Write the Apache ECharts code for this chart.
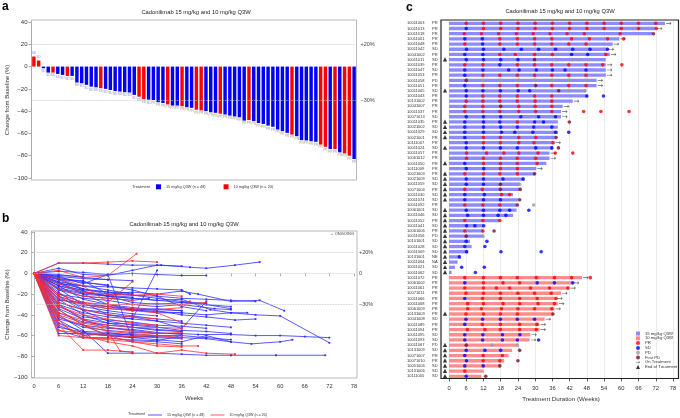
<!DOCTYPE html>
<html><head><meta charset="utf-8">
<script src="https://cdn.jsdelivr.net/npm/echarts@6/dist/echarts.min.js"></script>
<style>html,body{margin:0;padding:0;background:#fff}#c{width:680px;height:418px}</style>
</head><body><div id="c"></div>
<script>
// ---------- Panel a : waterfall ----------
const waterfallValues = [9, 5.4, -1.5, -5.4, -5.4, -6.6, -7.5, -8.4, -8.4, -14.3, -15, -16.4, -18, -18.6, -19.4, -20, -21, -22, -22.4, -23, -23.3, -25.4, -27, -29.3, -29.7, -30, -32, -32.7, -34, -35, -35, -35.6, -36.5, -37, -38.7, -39.3, -40, -41, -41.5, -42.3, -43, -44, -44.8, -45.5, -48.5, -48, -49, -50.6, -51.5, -53, -54, -56.5, -58, -59.5, -61, -62.5, -66, -66.3, -67, -67.5, -70, -72, -74, -74, -77, -78, -80, -83];
const waterfallArm = [10,10,15,15,10,15,15,10,15,15, 15,15,15,15,10,15,15,15,15,15, 15,15,10,10,15,15,15,15,10,15, 15,10,15,15,10,10,15,15,15,10, 15,15,15,15,15,10,15,15,15,15, 15,15,15,15,10,15,15,15,15,15, 10,10,15,10,15,10,10,15];
const waterfallResp = ['SD','SD','SD','SD','SD','SD','SD','SD','SD','SD','SD','SD','SD','SD','SD','SD','SD','SD','SD','SD','SD','SD','SD','SD','SD',
 'PR','PR','PR','PR','PR','PR','PR','PR','PR','PR','PR','PR','PR','PR','PR','PR','PR','PR','PR','PR','PR','PR','PR','PR','PR','PR','PR','PR','PR','PR','PR','PR','PR','PR','PR','PR','PR','PR','PR','PR','PR','PR','PR'];
const armLabels = {a15:'15 mg/kg Q3W (n = 48)', a10:'10 mg/kg Q3W (n = 20)', b15:'15 mg/kg Q3W (n = 48)', b10:'10 mg/kg Q3W (n = 20)'};

// ---------- Panel b : spider ----------
const spiderBlue = [
 [[0,0],[6,10],[12,10],[18,9],[24,8],[31,8],[38,6],[42,5],[49,8],[55,11]],
 [[0,0],[6,5],[12,-1],[18,-2],[24,3],[30,8],[36,7]],
 [[0,0],[6,2],[12,1],[18,-1],[24,0],[30,-1],[36,-2],[42,-2]],
 [[0,0],[6,-3],[12,-10],[18,-1],[24,-64],[30,-65],[36,-60]],
 [[0,0],[6,-5],[12,-15],[18,-20],[24,-18],[30,-20],[36,-17],[40,-20],[48,-27],[55,-26],[61,-36]],
 [[0,0],[6,-8],[12,-20],[18,-22],[24,-24],[30,-26],[36,-25],[43,-35],[48,-38],[54,-40],[60,-41],[72,-67]],
 [[0,0],[6,-10],[12,-17],[18,-22],[24,-28],[30,-30],[36,-28],[42,-30],[48,-34]],
 [[0,0],[6,-4],[12,-8],[18,-12],[24,-16],[30,-22],[36,-32],[42,-36]],
 [[0,0],[6,-12],[12,-25],[18,-30],[24,-35],[30,-38],[36,-38]],
 [[0,0],[6,-15],[12,-30],[18,-32],[24,-34],[30,-36],[36,-40],[42,-42],[49,-45],[54,-44]],
 [[0,0],[6,-20],[12,-28],[18,-40],[24,-44],[30,3]],
 [[0,0],[6,-18],[12,-35],[18,-40],[24,-42],[30,-46],[36,-53],[42,-27]],
 [[0,0],[6,-22],[12,-36],[18,-46],[24,-50],[30,-52],[36,-55],[42,-56],[48,-58]],
 [[0,0],[6,-25],[12,-40],[18,-48],[24,-52],[30,-54],[36,-56]],
 [[0,0],[6,-30],[12,-45],[18,-52],[24,-55],[30,-58],[36,-58],[40,-59],[48,-59],[54,-60],[60,-60],[66,-61],[72,-62]],
 [[0,0],[6,-35],[12,-50],[18,-60],[24,-62],[30,-64],[36,-66],[42,-60],[48,-66],[53,-68],[60,-66],[63,-64]],
 [[0,0],[6,-40],[12,-55],[18,-77],[24,-77],[30,-77],[36,-78],[42,-79],[48,-79],[59,-79],[71,-79]],
 [[0,0],[6,-45],[12,-58],[18,-60],[24,-62],[30,-60]],
 [[0,0],[6,-50],[12,-60],[18,-58],[24,-59],[30,-60],[36,-60],[42,-62],[48,-64]],
 [[0,0],[6,-55],[12,-62],[18,-62],[24,-65],[30,-66],[36,-68]],
 [[0,0],[6,-58],[12,-58],[18,-60],[24,-58]],
 [[0,0],[6,-20],[12,-24],[18,-26],[24,-30],[30,-32],[36,-30],[44,-34],[48,-35]],
 [[0,0],[6,-10],[12,-12],[18,-13],[24,-14],[30,-15],[36,-16],[38,-20]],
 [[0,0],[6,-6],[12,-7],[18,-20],[24,-21],[30,-22],[36,-24],[42,-25],[48,-26],[54,-27]],
 [[0,0],[6,-3],[12,-5],[18,-6],[24,-7]],
 [[0,0],[6,-2],[12,-3]],
 [[0,0],[6,-1],[12,-4],[18,-6]],
 [[0,0],[6,-8],[12,-12],[18,-16],[24,-20]],
 [[0,0],[6,-12],[12,-18],[18,-22],[24,-24],[30,-26],[36,-28],[42,-30],[48,-32]],
 [[0,0],[6,-15],[12,-20],[18,-30],[24,-33],[30,-35],[36,-36]],
 [[0,0],[6,-28],[12,-35],[18,-38],[24,-41],[30,-44],[36,-46]],
 [[0,0],[6,-32],[12,-42],[18,-45],[24,-47],[30,-50],[36,-51],[42,-53]],
 [[0,0],[6,-38],[12,-47],[18,-50],[24,-52],[30,-55],[36,-56]],
 [[0,0],[6,-42],[12,-52],[18,-55],[24,-57],[30,-58]],
 [[0,0],[6,-48],[12,-56],[18,-57],[24,-60],[30,-61],[36,-62],[42,-63],[48,-66]],
 [[0,0],[6,-22],[12,-30],[18,-34],[24,-35],[30,-37],[36,-38],[42,-40],[48,-38],[52,-38]],
 [[0,0],[6,-26],[12,-28],[18,-32],[24,-36],[30,-34],[36,-36]],
 [[0,0],[6,-16],[12,-22],[18,-24],[24,-26],[28,-24]],
 [[0,0],[6,-5],[12,-9],[18,-11]],
 [[0,0],[6,-6],[12,-16]],
 [[0,0],[6,-14],[12,-19],[18,-21],[24,-23]],
 [[0,0],[6,-30],[12,-38],[18,-42],[24,-44],[30,-46],[36,-48],[42,-50],[48,-52]],
 [[0,0],[6,-34],[12,-44],[18,-48],[24,-49],[30,-51]],
 [[0,0],[6,-44],[12,-50],[18,-53],[24,-54],[30,-57],[36,-59]],
 [[0,0],[6,-9],[12,-15],[18,-18],[24,-21],[30,-24],[36,-27],[42,-29]],
 [[0,0],[6,-24],[12,-32],[18,-36],[24,-39],[30,-41]],
 [[0,0],[6,-52],[12,-57],[18,-59],[24,-61],[30,-62],[36,-63]],
 [[0,0],[6,-12],[12,-16],[18,-18],[24,-19]]
];
const spiderRed = [
 [[0,0],[6,10],[12,10],[18,11],[24,12],[30,11]],
 [[0,0],[6,3],[12,-4],[18,-2],[25,19]],
 [[0,0],[6,-5],[12,-12],[18,-28],[24,-8]],
 [[0,0],[6,-10],[12,-18],[18,-20],[24,-21],[30,-20],[36,-22]],
 [[0,0],[6,-20],[12,-28],[18,-30],[24,-30],[30,-29],[36,-30],[42,-28]],
 [[0,0],[6,-25],[12,-30],[18,-34],[24,-36],[30,-38],[37,-49]],
 [[0,0],[6,-28],[12,-35],[18,-40],[24,-42],[30,-44]],
 [[0,0],[6,-32],[12,-40],[18,-44],[24,-48],[30,-50]],
 [[0,0],[6,-38],[12,-45],[18,-50],[24,-52],[30,-52],[36,-53]],
 [[0,0],[6,-42],[12,-50],[18,-56],[24,-58],[30,-60],[36,-60]],
 [[0,0],[6,-45],[9,-55],[12,-62],[18,-64],[24,-66],[30,-68],[36,-70],[40,-70]],
 [[0,0],[6,-50],[12,-74],[18,-74],[24,-76]],
 [[0,0],[6,-48],[12,-60],[18,-66],[24,-70],[30,-77],[36,-74],[42,-77],[49,-78]],
 [[0,0],[6,-55],[12,-58],[18,-60],[24,-61],[30,-60],[36,-62]],
 [[0,0],[6,-35],[12,-50],[18,-60],[24,-66],[30,-70],[36,-71]],
 [[0,0],[6,-30],[12,-44],[18,-56],[21,-75],[24,-76]],
 [[0,0],[6,-22],[12,-30],[18,-32],[24,-34],[30,-35],[36,-33],[38,-27]],
 [[0,0],[6,-40],[12,-48],[18,-52],[24,-56],[30,-58],[36,-57]],
 [[0,0],[6,-60],[12,-62],[18,-63],[24,-64]],
 [[0,0],[6,-15],[12,-22],[18,-24],[24,-26]]
];
const yTicksMin = -100, yTicksMax = 40, yTickStep = 20;
const weekMax = 78, weekStep = 6;

// ---------- Panel c : swimmer ----------
const swimIds = ['10011003','10011013','10011018','10011001','10011048','10011042','10041002','10011011','10011039','10011047','10011053','10011058','10011051','10011005','10011043','10131002','10041007','10011037','10071013','10011035','10021002','10011029','10021001','10111007','10011024','10011057','10061012','10011050','10111009','10021003','10021009','10011059','10071004','10011030','10011074','10011092','10061001','10011046','10011052','10011041','10061006','10011056','10101001','10011028','10011009','10131001','10011064','10011021','10011062','10011072','10061002','10011061','10071011','10011066','10011068','10061009','10131003','10041008','10011089','10011094','10011095','10011093','10011067','10131009','10071007','10071010','10051004','10131006','10111005'];
const swimResp = ['PR','PR','PR','PR','PR','SD','PR','SD','PR','SD','PR','PD','PR','SD','PR','PR','PR','PR','SD','PR','SD','SD','PR','PR','SD','PR','PR','PR','PR','PR','SD','SD','PR','SD','SD','PR','SD','SD','PR','SD','PR','PD','SD','SD','SD','NE','NA','SD','SD','PR','PR','PR','PR','PR','PR','PR','PR','SD','PR','PR','SD','SD','PD','SD','PR','PR','SD','SD','SD'];
const swimArm = [15,15,15,15,15,15,15,15,15,15, 15,15,15,15,15,15,15,15,15,15, 15,15,15,15,15,15,15,15,15,15, 15,15,15,15,15,15,15,15,15,15, 15,15,15,15,15,15,15,15,15, 10,10,10,10,10,10,10,10,10,10, 10,10,10,10,10,10,10,10,10,10];
const swimDur = [75.2,72,70.8,59.3,57,55.2,56,54.6,54.6,54.6,54.6,51.4,51.4,47.7,48.3,43.1,39.6,39,39,37.9,37.9,37.9,37.1,36.7,36.2,35,35,33.9,30.4,29.8,26.3,24.6,24.6,22.3,24,23.5,23.5,22.3,17.7,11.9,11.9,11.9,7.3,7.9,6.7,4,3,2.1,0.9, 46.3,43.1,41.9,39,37.3,37.9,36.7,36.2,33.3,31.5,31.5,28.3,28.1,23.8,22,20.8,19.2,17.8,12.1,11.3];
const swimOngoing = [1,1,0,1,1,1,1,0,1,1, 1,1,1,0,0,1,1,1,1,0, 0,0,0,1,0,1,1,0,1,0, 0,0,0,0,0,0,0,0,0,0, 0,0,0,0,0,0,0,0,0, 1,1,1,1,1,1,1,0,1,1, 1,1,1,0,0,0,0,0,0,0];
const swimEOT = [0,0,0,0,0,0,0,1,0,0, 0,0,0,1,0,0,0,0,0,1, 1,1,1,0,1,0,0,1,0,1, 1,1,1,1,1,0,1,1,1,1, 1,1,1,1,1,1,1,1,1, 0,0,0,0,0,0,0,1,0,0, 0,0,0,1,1,1,1,1,1,1];
const swimAssess = [
 [[6,'R'],[12,'R'],[18,'R'],[24,'R'],[30,'R'],[36,'R'],[42,'R'],[48,'R'],[54,'R'],[60,'R'],[66,'R'],[72,'R']],
 [[6,'S'],[12,'R'],[18,'R'],[24,'R'],[30,'R'],[36,'R'],[42,'R'],[48,'R'],[54,'R'],[60,'R'],[66,'R'],[72.2,'R']],
 [[5.3,'R'],[11.3,'R'],[17.3,'R'],[23.5,'R'],[29.3,'R'],[35.2,'R'],[41.1,'R'],[47.1,'R'],[59.6,'R'],[71.2,'F']],
 [[5.5,'S'],[11.6,'S'],[17.7,'R'],[23.8,'R'],[29.8,'R'],[35.8,'R'],[42.7,'R'],[48.9,'R'],[55.2,'R'],[60.8,'R']],
 [[5.5,'R'],[11.7,'S'],[17.7,'R'],[23.8,'R'],[29.8,'R'],[35.8,'R'],[41.7,'R'],[47.7,'R']],
 [[6.1,'S'],[12,'S'],[19.1,'S'],[25.2,'S'],[31.2,'S'],[37.1,'S'],[43.1,'S'],[49.1,'S'],[55.2,'S']],
 [[5.5,'S'],[11.8,'S'],[17.7,'R'],[23.1,'R'],[29.8,'R'],[36,'R'],[42.7,'S'],[48.3,'S'],[54.6,'R']],
 [[6,'S'],[12,'S'],[18,'S'],[24,'S'],[29.8,'F'],[37,'P'],[42.9,'P'],[45.2,'P'],[48.9,'P']],
 [[5.5,'R'],[11.8,'R'],[17.7,'S'],[23.8,'R'],[29.8,'R'],[35.8,'R'],[41.7,'R'],[47.7,'R'],[53.5,'R'],[60.2,'R']],
 [[5.5,'S'],[11.8,'S'],[20.8,'S'],[24.4,'S'],[30.4,'S'],[36,'S'],[40.4,'S'],[47.7,'S']],
 [[5.5,'S'],[11.8,'R'],[17.7,'R'],[23.8,'R'],[29.8,'R'],[35.8,'R'],[41.7,'R'],[47.7,'R']],
 [[6,'F'],[11.8,'P'],[17.7,'P'],[24.4,'P'],[29.8,'P'],[35.8,'P'],[41.7,'P'],[47.7,'P']],
 [[5.5,'S'],[11.8,'R'],[17.7,'R'],[23.8,'R'],[30.2,'F'],[35.8,'R'],[41.7,'R'],[47.7,'R']],
 [[6,'S'],[11.8,'S'],[17.9,'S'],[24.1,'S'],[28.1,'S'],[38.2,'F'],[41.4,'P'],[47.4,'P']],
 [[6,'S'],[11.8,'R'],[17.7,'R'],[23.8,'R'],[29.8,'R'],[35.8,'R'],[48,'S'],[53.8,'S']],
 [[6,'R'],[11.8,'R'],[17.7,'R'],[23.8,'R'],[30,'R'],[35.8,'R']],
 [[5.5,'R'],[11.8,'R'],[18,'F'],[24.3,'R'],[30,'R'],[35.8,'R']],
 [[5.5,'R'],[11.8,'R'],[17.7,'R'],[24.3,'R'],[30.2,'R'],[35.8,'R'],[46.9,'R'],[52.9,'R'],[62.7,'R']],
 [[6,'S'],[12,'S'],[18,'S'],[25,'S'],[31.2,'S'],[37.1,'S']],
 [[5.5,'S'],[12,'S'],[17.7,'S'],[23.8,'R'],[29.8,'S'],[32.9,'S'],[41.9,'F']],
 [[5.5,'S'],[12,'S'],[18,'S'],[23.8,'S'],[29.5,'S'],[35.8,'S']],
 [[5.5,'S'],[12,'S'],[18.3,'S'],[22.9,'S'],[29.2,'S'],[37.1,'S'],[41.7,'S']],
 [[5.5,'S'],[12,'R'],[17.9,'R'],[24.3,'R'],[30.2,'R'],[37.3,'F']],
 [[6,'S'],[12,'R'],[17.9,'R'],[24.3,'R'],[29.6,'R'],[36.2,'R']],
 [[6,'S'],[12,'S'],[17.9,'S'],[23.8,'S'],[30.2,'S'],[35.8,'S'],[38.1,'F']],
 [[6.1,'R'],[13.1,'R'],[19.1,'R'],[24.3,'R'],[31,'R'],[37,'R'],[43.1,'R']],
 [[6.1,'R'],[12,'R'],[17.9,'R'],[23.8,'R'],[30.2,'R']],
 [[5.5,'S'],[12,'R'],[17.9,'R'],[23.8,'R'],[30.7,'R']],
 [[6,'S'],[12.1,'S'],[17.9,'R'],[23.8,'R']],
 [[5.5,'R'],[12,'R'],[17.7,'R'],[23.8,'R'],[29.8,'F']],
 [[6,'S'],[12,'S'],[18.8,'S'],[25.8,'S']],
 [[6,'S'],[12,'S'],[17.9,'F'],[24.6,'P']],
 [[5.5,'R'],[11.6,'R'],[17.9,'F'],[24.8,'F']],
 [[5.5,'S'],[12.3,'S'],[18.3,'R'],[21.1,'R']],
 [[5.5,'S'],[12,'S'],[17.9,'S'],[24.6,'F']],
 [[5.5,'R'],[11.8,'R'],[17.7,'R'],[23.8,'F'],[29.5,'P']],
 [[6,'S'],[12,'S'],[17.7,'S'],[21.1,'S'],[27.8,'S']],
 [[6.5,'S'],[12,'S'],[17.1,'S'],[19.8,'S']],
 [[5.5,'R'],[11.8,'R'],[17.7,'R']],
 [[6.1,'S'],[9,'S'],[12.1,'S']],
 [[5.5,'R'],[11.8,'R'],[15.7,'F']],
 [[6,'F'],[11.8,'P']],
 [[6,'S'],[13.2,'S']],
 [[5.5,'S'],[12.5,'S']],
 [[6.1,'S'],[18.1,'S'],[32.1,'S']],
 [[3.6,'S']],
 [],
 [[4.4,'S'],[12.3,'S']],
 [[9.2,'S']],
 [[5.5,'R'],[12,'R'],[17.9,'R'],[23.8,'R'],[30.4,'R'],[36.7,'R'],[42.7,'R'],[49.2,'R']],
 [[5.5,'S'],[12,'R'],[18.8,'R'],[24.6,'R'],[30.7,'S'],[36.7,'S'],[43.1,'S']],
 [[5.5,'R'],[12,'R'],[16.5,'R'],[21.1,'R'],[28.4,'R'],[35,'R'],[41.4,'R']],
 [[5.9,'R'],[12,'R'],[17.9,'R'],[24,'R'],[29.8,'R'],[35.6,'R']],
 [[5.5,'S'],[11.7,'R'],[17.9,'R'],[24.6,'R'],[30.7,'R'],[37.3,'R']],
 [[6.5,'R'],[12,'R'],[18.8,'R'],[24.6,'R'],[31,'R'],[36.7,'R']],
 [[6.5,'R'],[11.3,'R'],[18.3,'R'],[24,'R'],[29.8,'R'],[35.8,'R']],
 [[5.9,'R'],[12,'R'],[17.9,'R'],[23.8,'R'],[36.2,'F']],
 [[5.9,'S'],[11.7,'S'],[17.9,'S'],[23.8,'S'],[29.8,'S']],
 [[5.5,'S'],[11.6,'R'],[17.9,'R'],[24.6,'R'],[30.6,'R']],
 [[6.4,'R'],[12.5,'R'],[17.9,'R'],[24.6,'R'],[30.4,'R']],
 [[5.5,'S'],[11.8,'S'],[18.6,'S'],[24.7,'S']],
 [[5.5,'S'],[11.7,'S'],[18.6,'S'],[23.8,'S'],[31.2,'S']],
 [[6,'F'],[15,'P'],[23.8,'P']],
 [[6,'S'],[12.5,'S'],[18,'S'],[24.6,'F']],
 [[5.5,'S'],[11.9,'R'],[18.6,'R']],
 [[6.1,'S'],[11.9,'R'],[17.7,'R'],[24,'F']],
 [[5.5,'S'],[11.9,'S'],[17.7,'F']],
 [[5.5,'R']],
 [[6,'S'],[12.8,'F']]
];
const assessNames = {R:'PR', S:'SD', P:'PD', F:'First PD'};

// ---------- styles ----------
const FONT = '"Liberation Sans", Arial, sans-serif';
const BLUE = '#0000ff', RED = '#ff0000';
const respColors = {SD:'#8c8cd6', PR:'#a99a8a', PD:'#d88f8f'};
const arrowPath = 'path://M0,4.4L7,4.4L7,2L10,5L7,8L7,5.6L0,5.6Z';
const minusFmt = v => v < 0 ? '\u2212' + Math.abs(v) : String(v);

const chart = echarts.init(document.getElementById('c'));

function wfData(arm) {
  return waterfallValues.map((v, i) => waterfallArm[i] === arm ? {
    value: v,
    label: {position: v >= 0 ? 'top' : 'bottom', color: respColors[waterfallResp[i]]}
  } : '-');
}
const wfLabel = {show: true, fontSize: 3.2, distance: 1.5, fontFamily: FONT, formatter: p => waterfallResp[p.dataIndex]};

const series = [];
series.push({
  name: 'a15', type: 'bar', xAxisIndex: 0, yAxisIndex: 0, data: wfData(15), barWidth: '72%', barGap: '-100%',
  itemStyle: {color: BLUE}, label: wfLabel, silent: true,
  markLine: {silent: true, symbol: 'none', animation: false,
    lineStyle: {type: 'dotted', color: '#c4c4c4', width: 0.8},
    label: {position: 'end', fontSize: 5.5, color: '#444', fontFamily: FONT, distance: 4},
    data: [{yAxis: 20, label: {formatter: '+20%'}}, {yAxis: -30, label: {formatter: '\u221230%'}}]}
});
series.push({
  name: 'a10', type: 'bar', xAxisIndex: 0, yAxisIndex: 0, data: wfData(10), barWidth: '72%', barGap: '-100%',
  itemStyle: {color: RED}, label: wfLabel, silent: true
});
spiderBlue.forEach((d, k) => {
  const s = {name: 'b15', type: 'line', xAxisIndex: 1, yAxisIndex: 1, data: d, symbol: 'rect', symbolSize: 1.8,
    itemStyle: {color: '#2f2fff'}, lineStyle: {width: 0.8, color: '#2f2fff'}, silent: true};
  if (k === 0) s.markLine = {silent: true, symbol: 'none', animation: false,
    lineStyle: {type: 'dotted', color: '#c4c4c4', width: 0.8},
    label: {position: 'end', fontSize: 5.5, color: '#444', fontFamily: FONT, distance: 5},
    data: [{yAxis: 20, label: {formatter: '+20%'}}, {yAxis: 0, label: {formatter: '0'}}, {yAxis: -30, label: {formatter: '\u221230%'}}]};
  series.push(s);
});
spiderRed.forEach(d => {
  series.push({name: 'b10', type: 'line', xAxisIndex: 1, yAxisIndex: 1, data: d, symbol: 'rect', symbolSize: 1.8,
    itemStyle: {color: '#ff2f2f'}, lineStyle: {width: 0.8, color: '#ff2f2f'}, silent: true});
});
// swimmer bars
series.push({name: '15 mg/kg Q3W', type: 'bar', xAxisIndex: 2, yAxisIndex: 2, barWidth: 3.3, barGap: '-100%',
  data: swimDur.map((d, i) => swimArm[i] === 15 ? d : '-'), itemStyle: {color: '#8c8cff'}, silent: true});
series.push({name: '10 mg/kg Q3W', type: 'bar', xAxisIndex: 2, yAxisIndex: 2, barWidth: 3.3, barGap: '-100%',
  data: swimDur.map((d, i) => swimArm[i] === 10 ? d : '-'), itemStyle: {color: '#ff8c8c'}, silent: true});
const dotColors = {PR: '#ff0000', SD: '#0000ff', PD: '#9a9a9a', 'First PD': '#7a0a22'};
['PR', 'SD', 'PD', 'First PD'].forEach(nm => {
  const pts = [];
  swimAssess.forEach((row, i) => row.forEach(([w, c]) => { if (assessNames[c] === nm) pts.push([w, i]); }));
  series.push({name: nm, type: 'scatter', xAxisIndex: 2, yAxisIndex: 2, data: pts, symbol: 'circle', symbolSize: 3.6,
    itemStyle: {color: dotColors[nm]}, z: 5, silent: true});
});
series.push({name: 'On Treatment', type: 'scatter', xAxisIndex: 2, yAxisIndex: 2, symbol: arrowPath, symbolSize: [5.5, 3.3],
  symbolOffset: [3.8, 0], itemStyle: {color: '#444'}, z: 4, silent: true,
  data: swimDur.map((d, i) => swimOngoing[i] ? [d, i] : null).filter(Boolean)});
series.push({name: 'End of Treatment', type: 'scatter', xAxisIndex: 2, yAxisIndex: 2, symbol: 'triangle', symbolSize: 4.2,
  symbolOffset: [-4, -0.3], itemStyle: {color: '#000'}, z: 6, silent: true, clip: false,
  data: swimEOT.map((e, i) => e ? [0, i] : null).filter(Boolean)});

const yValAxis = (grid, extra) => Object.assign({
  gridIndex: grid, type: 'value', min: yTicksMin, max: yTicksMax, interval: yTickStep,
  axisLine: {show: true, lineStyle: {color: '#999', width: 0.8}},
  axisTick: {show: true, length: 3, lineStyle: {color: '#999', width: 0.8}},
  axisLabel: {fontSize: 6, color: '#333', margin: 4, fontFamily: FONT, formatter: minusFmt},
  splitLine: {show: false},
  name: 'Change from Baseline (%)', nameLocation: 'middle', nameGap: 20,
  nameTextStyle: {fontSize: 6, color: '#333', fontFamily: FONT}
}, extra || {});

const option = {
  animation: false,
  backgroundColor: '#fff',
  textStyle: {fontFamily: FONT},
  grid: [
    {left: 31.5, top: 22, width: 325, height: 156},
    {left: 34, top: 232, width: 320, height: 145},
    {left: 449, top: 20.7, width: 224, height: 358.2}
  ],
  xAxis: [
    {gridIndex: 0, type: 'category', data: waterfallValues.map((_, i) => i + 1), show: false},
    {gridIndex: 1, type: 'value', min: 0, max: weekMax, interval: weekStep,
      axisLine: {show: false}, axisTick: {show: true, length: 3, lineStyle: {color: '#999', width: 0.8}},
      axisLabel: {fontSize: 5.7, color: '#333', margin: 6, fontFamily: FONT}, splitLine: {show: false},
      name: 'Weeks', nameLocation: 'middle', nameGap: 18, nameTextStyle: {fontSize: 6, color: '#333', fontFamily: FONT}},
    {gridIndex: 2, type: 'value', min: 0, max: weekMax, interval: weekStep,
      axisLine: {show: false}, axisTick: {show: true, length: 2.5, lineStyle: {color: '#333', width: 0.8}},
      axisLabel: {fontSize: 5.8, color: '#333', margin: 6, fontFamily: FONT},
      splitLine: {show: true, lineStyle: {color: '#e2e2e2', width: 0.7}},
      name: 'Treatment Duration (Weeks)', nameLocation: 'middle', nameGap: 17,
      nameTextStyle: {fontSize: 6.2, color: '#333', fontFamily: FONT}}
  ],
  yAxis: [
    yValAxis(0),
    yValAxis(1, {offset: 2.5}),
    {gridIndex: 2, type: 'category', data: swimIds, inverse: true,
      axisLine: {show: false}, axisTick: {show: false}, splitLine: {show: false},
      axisLabel: {interval: 0, margin: 11, fontFamily: FONT,
        formatter: (v, i) => '{id|' + v + '}{r|' + swimResp[i] + '}',
        rich: {id: {fontSize: 4, width: 25, align: 'left', color: '#333', fontFamily: FONT},
               r: {fontSize: 4, width: 6, align: 'left', color: '#333', fontFamily: FONT}}}}
  ],
  legend: [
    {data: [{name: 'a15', icon: 'rect'}, {name: 'a10', icon: 'rect'}], left: 156, top: 184.3, itemWidth: 5, itemHeight: 5,
      itemGap: 18, padding: 0, selectedMode: false, formatter: n => armLabels[n],
      textStyle: {fontSize: 3.8, color: '#333', fontFamily: FONT}},
    {data: [{name: 'b15', icon: 'rect'}, {name: 'b10', icon: 'rect'}], left: 148, top: 413, itemWidth: 14, itemHeight: 0.8,
      itemGap: 6, padding: 0, selectedMode: false, formatter: n => armLabels[n],
      textStyle: {fontSize: 3.6, color: '#333', fontFamily: FONT}},
    {data: [{name: '15 mg/kg Q3W', icon: 'rect'}, {name: '10 mg/kg Q3W', icon: 'rect'},
            {name: 'PR', icon: 'circle'}, {name: 'SD', icon: 'circle'}, {name: 'PD', icon: 'circle'}, {name: 'First PD', icon: 'circle'},
            {name: 'On Treatment', icon: arrowPath}, {name: 'End of Treatment', icon: 'triangle'}],
      orient: 'vertical', left: 636, top: 331.5, itemWidth: 4, itemHeight: 4, itemGap: 0.8, padding: 0, selectedMode: false,
      textStyle: {fontSize: 4.2, color: '#333', fontFamily: FONT}}
  ],
  graphic: [
    {type: 'text', x: 2, y: 1, style: {text: 'a', fontSize: 12, fontWeight: 'bold', fill: '#000', fontFamily: FONT}},
    {type: 'text', x: 2, y: 213, style: {text: 'b', fontSize: 12, fontWeight: 'bold', fill: '#000', fontFamily: FONT}},
    {type: 'text', x: 406, y: 2, style: {text: 'c', fontSize: 12, fontWeight: 'bold', fill: '#000', fontFamily: FONT}},
    {type: 'text', x: 196, y: 12.7, style: {text: 'Cadonilimab 15 mg/kg and 10 mg/kg Q3W', fontSize: 5.8, fill: '#222', fontFamily: FONT, align: 'center', verticalAlign: 'middle'}},
    {type: 'text', x: 184, y: 224, style: {text: 'Cadonilimab 15 mg/kg and 10 mg/kg Q3W', fontSize: 5.8, fill: '#222', fontFamily: FONT, align: 'center', verticalAlign: 'middle'}},
    {type: 'text', x: 560, y: 11.7, style: {text: 'Cadonilimab 15 mg/kg and 10 mg/kg Q3W', fontSize: 5.8, fill: '#222', fontFamily: FONT, align: 'center', verticalAlign: 'middle'}},
    {type: 'text', x: 132, y: 186.8, style: {text: 'Treatment', fontSize: 4, fill: '#333', fontFamily: FONT, verticalAlign: 'middle'}},
    {type: 'text', x: 128, y: 413.5, style: {text: 'Treatment', fontSize: 3.8, fill: '#333', fontFamily: FONT, verticalAlign: 'middle'}},
    {type: 'text', x: 354, y: 234.3, style: {text: '\u2192 ONGOING', fontSize: 4, fill: '#444', fontFamily: FONT, align: 'right', verticalAlign: 'middle'}},
    {type: 'rect', silent: true, z: 10, shape: {x: 31.5, y: 20, width: 325, height: 160}, style: {fill: 'none', stroke: '#a8a8a8', lineWidth: 0.8}},
    {type: 'rect', silent: true, z: 10, shape: {x: 31.5, y: 231, width: 325.5, height: 147}, style: {fill: 'none', stroke: '#a8a8a8', lineWidth: 0.8}},
    {type: 'rect', silent: true, z: 10, shape: {x: 441, y: 20, width: 237.5, height: 358.5}, style: {fill: 'none', stroke: '#222', lineWidth: 1.2}}
  ],
  series: series
};
chart.setOption(option);
</script>
</body></html>
